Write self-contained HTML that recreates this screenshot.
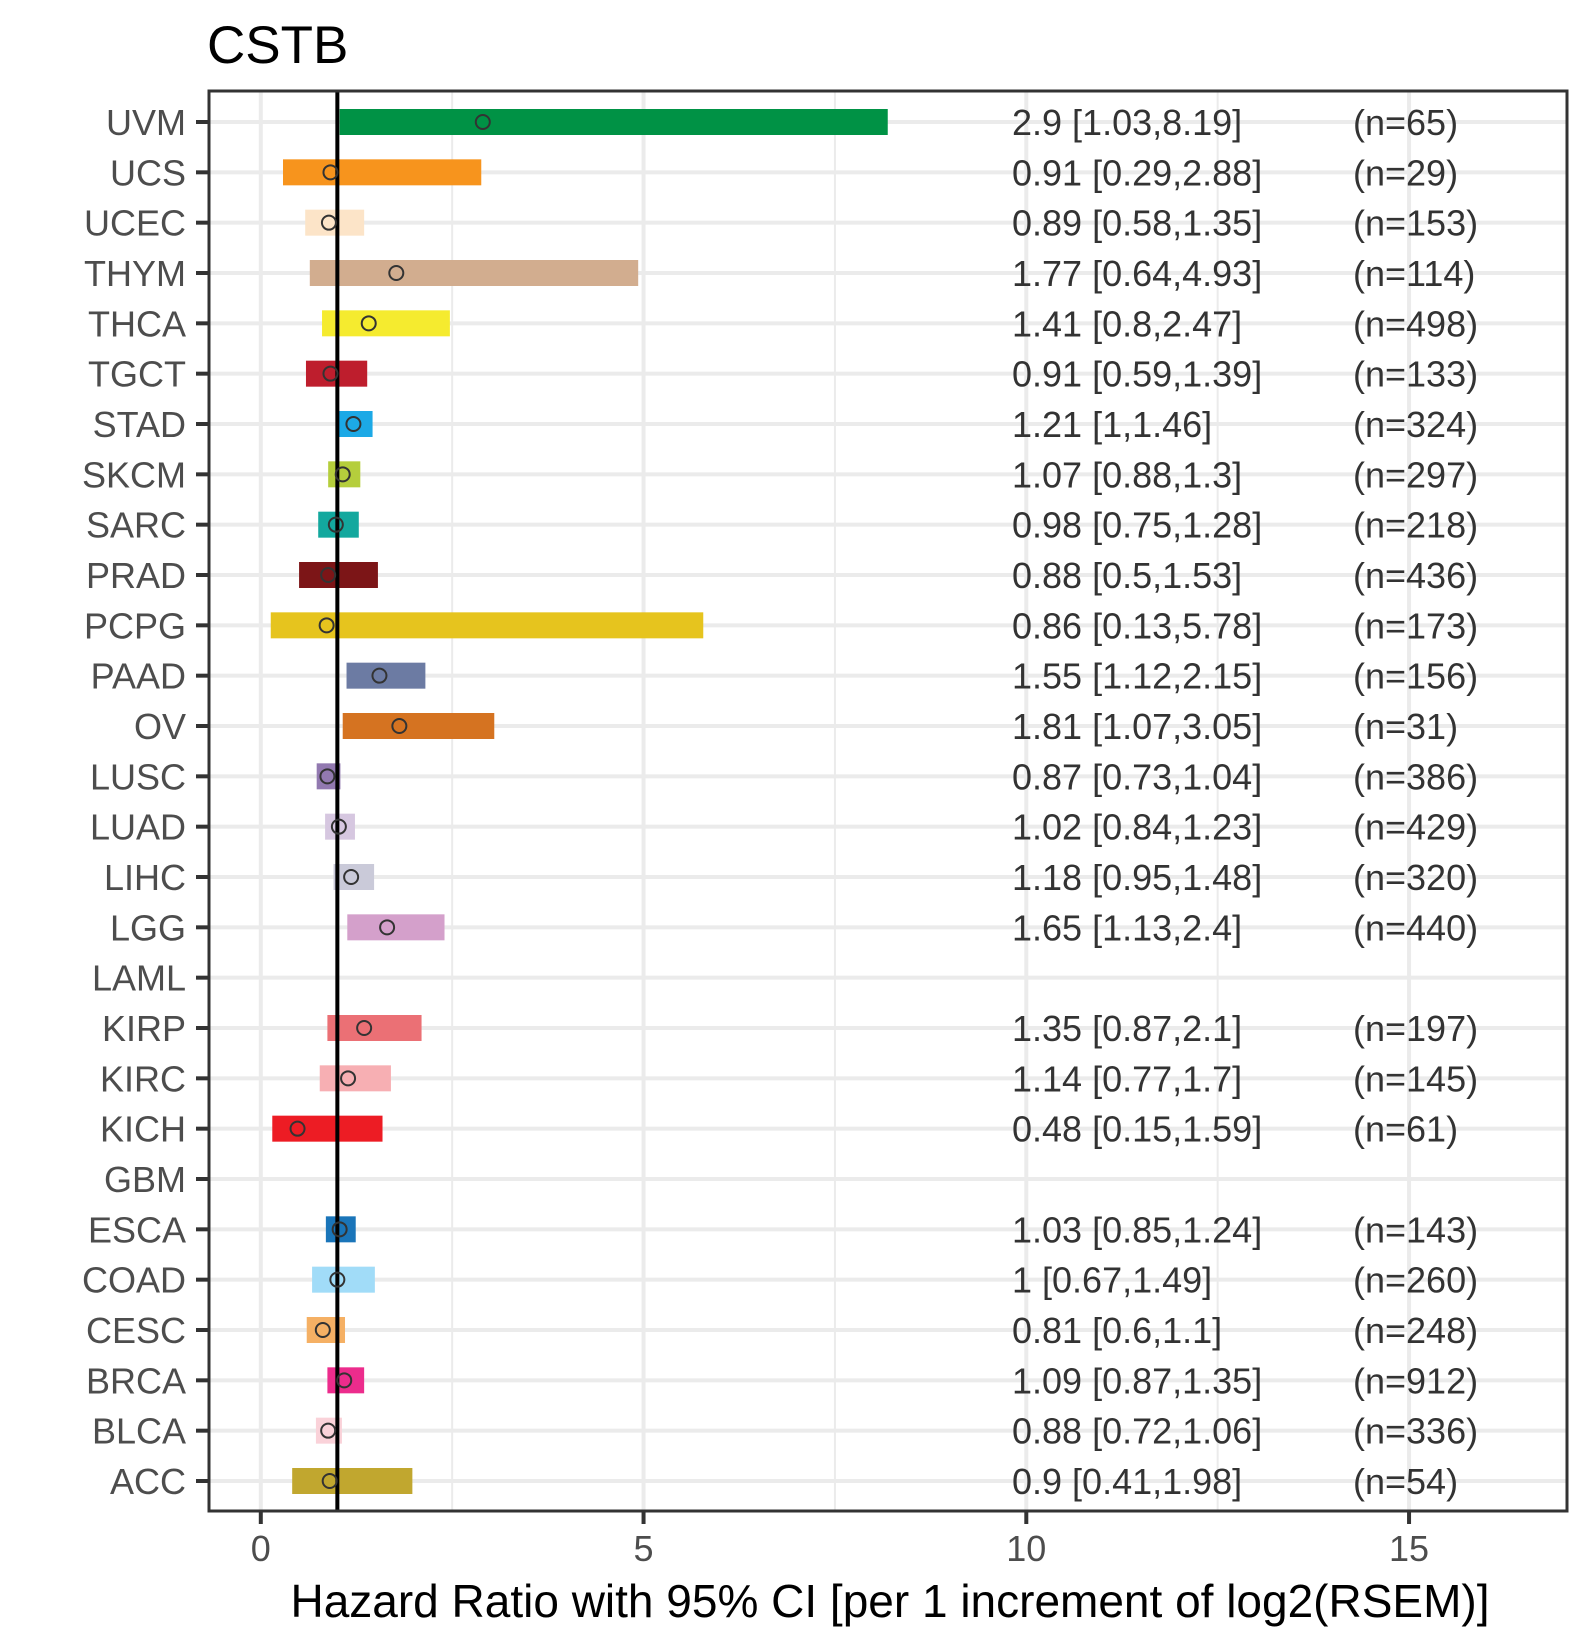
<!DOCTYPE html>
<html><head><meta charset="utf-8">
<style>
html,body{margin:0;padding:0;background:#fff;}
svg{display:block;font-family:"Liberation Sans",Arial,sans-serif;}
</style></head>
<body>
<svg id="chart" width="1590" height="1650" viewBox="0 0 1590 1650"></svg>
<script>
const categories=["UVM","UCS","UCEC","THYM","THCA","TGCT","STAD","SKCM","SARC","PRAD","PCPG","PAAD","OV","LUSC","LUAD","LIHC","LGG","LAML","KIRP","KIRC","KICH","GBM","ESCA","COAD","CESC","BRCA","BLCA","ACC"];
const hr=[2.9,0.91,0.89,1.77,1.41,0.91,1.21,1.07,0.98,0.88,0.86,1.55,1.81,0.87,1.02,1.18,1.65,null,1.35,1.14,0.48,null,1.03,1,0.81,1.09,0.88,0.9];
const lower=[1.03,0.29,0.58,0.64,0.8,0.59,1,0.88,0.75,0.5,0.13,1.12,1.07,0.73,0.84,0.95,1.13,null,0.87,0.77,0.15,null,0.85,0.67,0.6,0.87,0.72,0.41];
const upper=[8.19,2.88,1.35,4.93,2.47,1.39,1.46,1.3,1.28,1.53,5.78,2.15,3.05,1.04,1.23,1.48,2.4,null,2.1,1.7,1.59,null,1.24,1.49,1.1,1.35,1.06,1.98];
const nval=[65,29,153,114,498,133,324,297,218,436,173,156,31,386,429,320,440,null,197,145,61,null,143,260,248,912,336,54];
const colors=["#009245","#F7941D","#FCE4C8","#D2AD8F","#F5EB2F","#BE1E2D","#1CA9E6","#B5CE3C","#13A89E","#7C1517","#E6C41E","#6C7BA3","#D57321","#9279B0","#D6C7E0","#CACAD9","#D4A0CB","#888","#EB7075","#F7AFB3","#ED1C24","#888","#1A75B9","#A1DCF8","#F5B064","#EC2C8C","#FAD2D9","#C1A72F"];
const xTicks=[0,5,10,15];
const xMinor=[2.5,7.5,12.5];

const NS="http://www.w3.org/2000/svg";
const svg=document.getElementById('chart');
const L=209,R=1567,T=91,B=1511;
const X=v=>260.8+v*76.55;
const rowTop=122,rowStep=(1481-122)/(categories.length-1);
const Y=i=>rowTop+i*rowStep;
function mk(tag,attrs,parent){const e=document.createElementNS(NS,tag);for(const k in attrs)e.setAttribute(k,attrs[k]);(parent||svg).appendChild(e);return e;}

xMinor.forEach(v=>{const g=mk('line',{x1:X(v),x2:X(v),y1:T,y2:B,stroke:'#ebebeb','stroke-width':2});

});
xTicks.forEach(v=>{const g=mk('line',{x1:X(v),x2:X(v),y1:T,y2:B,stroke:'#ebebeb','stroke-width':4});

});
categories.forEach((c,i)=>{const g=mk('line',{x1:L,x2:R,y1:Y(i),y2:Y(i),stroke:'#ebebeb','stroke-width':4});

});

categories.forEach((c,i)=>{
  if(hr[i]==null)return;
  const b=mk('rect',{x:X(lower[i]),y:Y(i)-13,width:X(upper[i])-X(lower[i]),height:26,fill:colors[i]});
  
  
});
const ref=mk('line',{x1:X(1),x2:X(1),y1:T,y2:B,stroke:'#000','stroke-width':4});


categories.forEach((c,i)=>{
  if(hr[i]==null)return;
  const p=mk('circle',{cx:X(hr[i]),cy:Y(i),r:7,fill:'none',stroke:'#333','stroke-width':2});
  
  
  const t=mk('text',{x:1012,y:Y(i)+13,'font-size':36,fill:'#333'});
  t.textContent=hr[i]+' ['+lower[i]+','+upper[i]+']';
  
  
  const n=mk('text',{x:1353,y:Y(i)+13,'font-size':36,fill:'#333'});
  n.textContent='(n='+nval[i]+')';
  
  
});
const border=mk('rect',{x:L,y:T,width:R-L,height:B-T,fill:'none',stroke:'#333','stroke-width':3});


categories.forEach((c,i)=>{
  const tk=mk('line',{x1:196,x2:L,y1:Y(i),y2:Y(i),stroke:'#333','stroke-width':4});
  
  
  const t=mk('text',{x:186,y:Y(i)+13,'font-size':36,fill:'#4d4d4d','text-anchor':'end'});
  t.textContent=c;
  
  
});
xTicks.forEach(v=>{
  const tk=mk('line',{x1:X(v),x2:X(v),y1:B,y2:B+13,stroke:'#333','stroke-width':4});
  
  
  const t=mk('text',{x:X(v),y:1561,'font-size':36,fill:'#4d4d4d','text-anchor':'middle'});
  t.textContent=v;
  
  
});
const xt=mk('text',{x:890,y:1617,'font-size':46,fill:'#000','text-anchor':'middle'});
xt.textContent='Hazard Ratio with 95% CI [per 1 increment of log2(RSEM)]';


const title=mk('text',{x:207,y:63,'font-size':53,fill:'#000'});
title.textContent='CSTB';


</script>
</body></html>
